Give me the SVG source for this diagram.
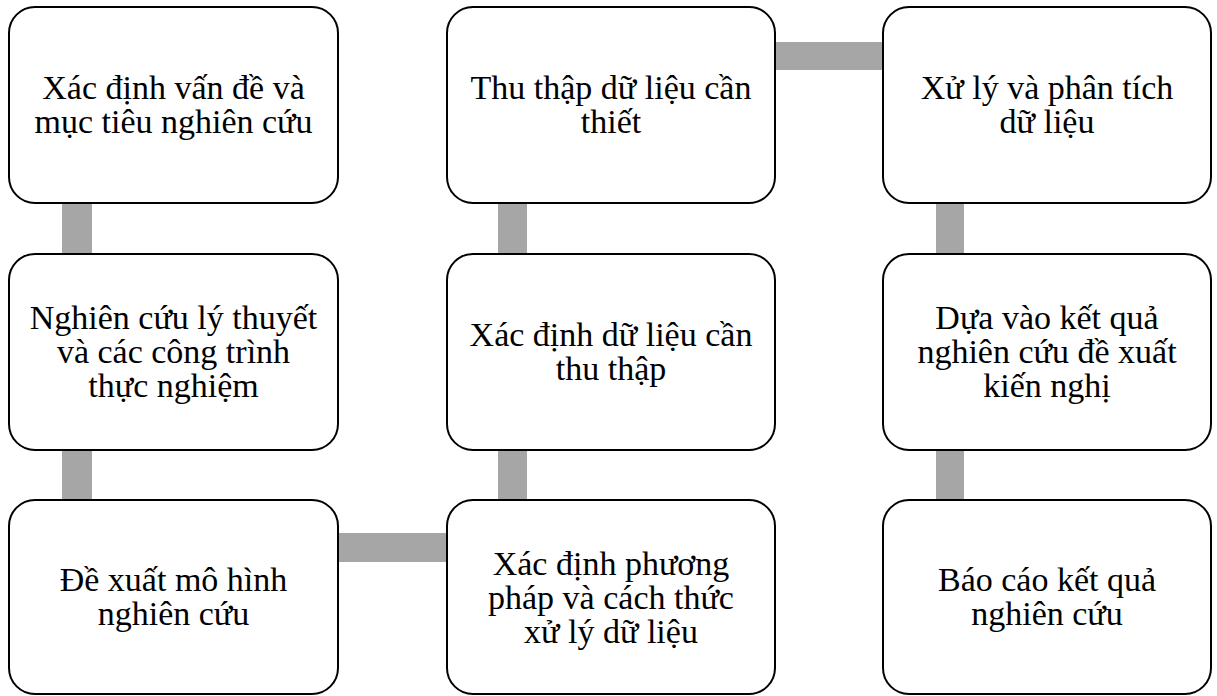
<svg xmlns="http://www.w3.org/2000/svg" width="1217" height="696" viewBox="0 0 1217 696">
<style>
.box{fill:#fff;stroke:#000;stroke-width:2}
.t{font-size:34px;fill:#000;text-anchor:middle}
.c{fill:#a6a6a6}
</style>
<rect width="1217" height="696" fill="#fff"/>
<g id="connectors">
<rect class="c" x="62" y="203" width="30" height="51"/>
<rect class="c" x="62" y="450" width="30" height="50"/>
<rect class="c" x="338" y="533" width="109" height="29"/>
<rect class="c" x="498" y="450" width="29" height="50"/>
<rect class="c" x="498" y="203" width="29" height="51"/>
<rect class="c" x="775" y="42" width="108" height="28"/>
<rect class="c" x="936" y="203" width="28" height="51"/>
<rect class="c" x="936" y="450" width="28" height="50"/>
</g>
<g font-family="Liberation Serif, Times New Roman, DejaVu Serif, serif">
<g id="n1"><rect class="box" x="9" y="7" width="329" height="196" rx="26"/>
<text class="t" x="173.5" y="99">Xác định vấn đề và</text><text class="t" x="173.5" y="133">mục tiêu nghiên cứu</text></g>
<g id="n2"><rect class="box" x="9" y="254" width="329" height="196" rx="26"/>
<text class="t" x="173.5" y="329">Nghiên cứu lý thuyết</text><text class="t" x="173.5" y="363">và các công trình</text><text class="t" x="173.5" y="397">thực nghiệm</text></g>
<g id="n3"><rect class="box" x="9" y="500" width="329" height="194" rx="26"/>
<text class="t" x="173.5" y="591">Đề xuất mô hình</text><text class="t" x="173.5" y="625">nghiên cứu</text></g>
<g id="n4"><rect class="box" x="447" y="500" width="328" height="194" rx="26"/>
<text class="t" x="611" y="575">Xác định phương</text><text class="t" x="611" y="609">pháp và cách thức</text><text class="t" x="611" y="643">xử lý dữ liệu</text></g>
<g id="n5"><rect class="box" x="447" y="254" width="328" height="196" rx="26"/>
<text class="t" x="611" y="346">Xác định dữ liệu cần</text><text class="t" x="611" y="380">thu thập</text></g>
<g id="n6"><rect class="box" x="447" y="7" width="328" height="196" rx="26"/>
<text class="t" x="611" y="99">Thu thập dữ liệu cần</text><text class="t" x="611" y="133">thiết</text></g>
<g id="n7"><rect class="box" x="883" y="7" width="328" height="196" rx="26"/>
<text class="t" x="1047" y="99">Xử lý và phân tích</text><text class="t" x="1047" y="133">dữ liệu</text></g>
<g id="n8"><rect class="box" x="883" y="254" width="328" height="196" rx="26"/>
<text class="t" x="1047" y="329">Dựa vào kết quả</text><text class="t" x="1047" y="363">nghiên cứu đề xuất</text><text class="t" x="1047" y="397">kiến nghị</text></g>
<g id="n9"><rect class="box" x="883" y="500" width="328" height="194" rx="26"/>
<text class="t" x="1047" y="591">Báo cáo kết quả</text><text class="t" x="1047" y="625">nghiên cứu</text></g>
</g>
</svg>
